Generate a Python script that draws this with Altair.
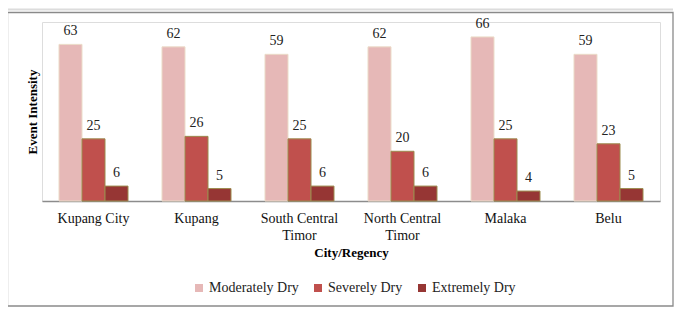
import altair as alt
import pandas as pd

regions = ["Kupang City", "Kupang", "South Central Timor", "North Central Timor", "Malaka", "Belu"]
series = ["Moderately Dry", "Severely Dry", "Extremely Dry"]
moderately = [63, 62, 59, 62, 66, 59]
severely = [25, 26, 25, 20, 25, 23]
extremely = [6, 5, 6, 6, 4, 5]
colors = ["#E6B8B7", "#C0504D", "#963634"]
strokes = ["#EBDCC8", "#9C8B4E", "#9C8B4E"]

rows = []
for i, r in enumerate(regions):
    for s, vals in zip(series, [moderately, severely, extremely]):
        rows.append({"region": r, "series": s, "value": vals[i]})
df = pd.DataFrame(rows)

font = "Liberation Serif"

x = alt.X("region:N", sort=regions,
          scale=alt.Scale(paddingInner=0.33, paddingOuter=0.165),
          axis=alt.Axis(title="City/Regency", labelAngle=0, ticks=False,
                        domainColor="#8C8C8C", domainWidth=1.5,
                        labelFont=font, labelFontSize=14, labelColor="#111",
                        labelFontWeight="normal",
                        labelPadding=10, labelLineHeight=17,
                        labelExpr="indexof(datum.label, 'Central') > 0 ? [slice(datum.label, 0, indexof(datum.label, ' Timor')), 'Timor'] : datum.label",
                        titleFont=font, titleFontSize=13, titleFontWeight="bold",
                        titleColor="#000", titlePadding=4))
y = alt.Y("value:Q", scale=alt.Scale(domain=[0, 72], nice=False),
          axis=alt.Axis(title="Event Intensity", labels=False, ticks=False,
                        domain=False, grid=False, titleFont=font, titleFontSize=13,
                        titleFontWeight="bold", titleColor="#000", titlePadding=3))
xo = alt.XOffset("series:N", sort=series)

bars = alt.Chart(df).mark_bar(strokeWidth=1).encode(
    x=x, y=y, xOffset=xo,
    color=alt.Color("series:N", sort=series,
                    scale=alt.Scale(domain=series, range=colors),
                    legend=alt.Legend(title=None, orient="none", direction="horizontal",
                                      legendX=150, legendY=259,
                                      symbolType="square", symbolSize=64,
                                      symbolStrokeWidth=0, symbolOffset=0,
                                      labelFont=font, labelFontSize=14,
                                      labelColor="#222", labelOffset=3,
                                      columnPadding=12)),
    stroke=alt.Stroke("series:N", sort=series,
                      scale=alt.Scale(domain=series, range=strokes), legend=None),
)

labels = alt.Chart(df).mark_text(dy=-6, baseline="bottom", font=font, fontSize=14,
                                 color="#222").encode(
    x=x, y=y, xOffset=xo, text="value:Q")

frame = alt.Chart(pd.DataFrame({"a": [0]})).mark_rect(
    fill="#ffffff", fillOpacity=0, stroke="#8A8A8A", strokeWidth=1.3, clip=False).encode(
    x=alt.value(-34.5), x2=alt.value(631), y=alt.value(-9.5), y2=alt.value(284))

topline = alt.Chart(pd.DataFrame({"a": [0]})).mark_rule(
    stroke="#DCDCDC", strokeWidth=2, clip=False).encode(
    x=alt.value(-34), x2=alt.value(631), y=alt.value(-12.5))

chart = alt.layer(topline, frame, bars, labels).properties(
    width=618, height=179,
    autosize=alt.AutoSizeParams(type="none"),
    padding={"left": 34, "top": 14, "right": 18, "bottom": 106},
).configure_view(stroke=None).configure(background="white")

chart.save("out.html", embed_options={"renderer": "svg", "actions": False})
